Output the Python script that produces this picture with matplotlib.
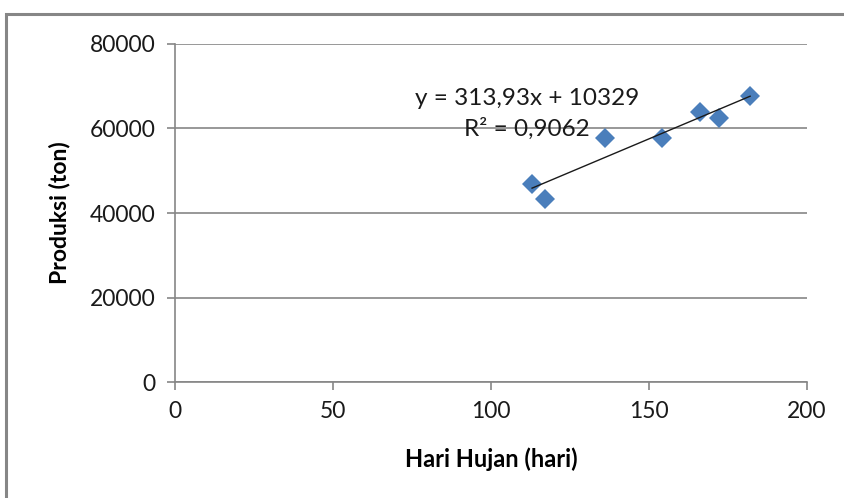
import numpy as np
import matplotlib.pyplot as plt
from matplotlib.patches import Rectangle

# data
hari_hujan = [113, 117, 136, 154, 166, 172, 182]
produksi = [46900, 43300, 57700, 57700, 63900, 62500, 67700]
x_ticks = [0, 50, 100, 150, 200]
y_ticks = [0, 20000, 40000, 60000, 80000]
eq_text = 'y = 313,93x + 10329\nR² = 0,9062'

plt.rcParams['font.family'] = ['Lato', 'DejaVu Sans']

fig = plt.figure(figsize=(8.45, 4.98), dpi=100)
ax = fig.add_axes([175/845, 1 - 382/498, 632/845, 338/498])

# outer chart border
fig.patches.append(Rectangle((6/845, -0.1), 1.2, (498 - 14)/498 + 0.1,
                             transform=fig.transFigure, fill=False,
                             edgecolor='#868686', linewidth=2.2))

ax.set_xlim(0, 200)
ax.set_ylim(0, 80000)
ax.set_xticks(x_ticks)
ax.set_yticks(y_ticks)
ax.set_yticklabels([str(v) for v in y_ticks])
ax.grid(axis='y', color='#868686', linewidth=1.2)
ax.set_axisbelow(True)
for s in ['top', 'right']:
    ax.spines[s].set_visible(False)
for s in ['left', 'bottom']:
    ax.spines[s].set_color('#868686')
    ax.spines[s].set_linewidth(1.2)
ax.tick_params(colors='#868686', length=6, width=1.2, labelcolor='#1a1a1a',
               labelsize=16.5)
ax.tick_params(axis='x', pad=8)
ax.tick_params(axis='y', pad=8)

ax.plot(hari_hujan, produksi, 'D', color='#4a7ebb', markersize=10.5,
        markeredgewidth=0, zorder=3)

coef = np.polyfit(hari_hujan, produksi, 1)
xs = np.array([min(hari_hujan), max(hari_hujan)])
ax.plot(xs, np.polyval(coef, xs), color='#1a1a1a', linewidth=1, zorder=4)

ax.text(111.4, 63500, eq_text, ha='center', va='center', fontsize=17.5,
        color='#1a1a1a', linespacing=1.45, zorder=2)

ax.set_xlabel('Hari Hujan (hari)', fontsize=17, fontweight='bold', labelpad=18)
ax.set_ylabel('Produksi (ton)', fontsize=16.5, fontweight='bold', labelpad=14)

fig.savefig('out.png', dpi=100)
